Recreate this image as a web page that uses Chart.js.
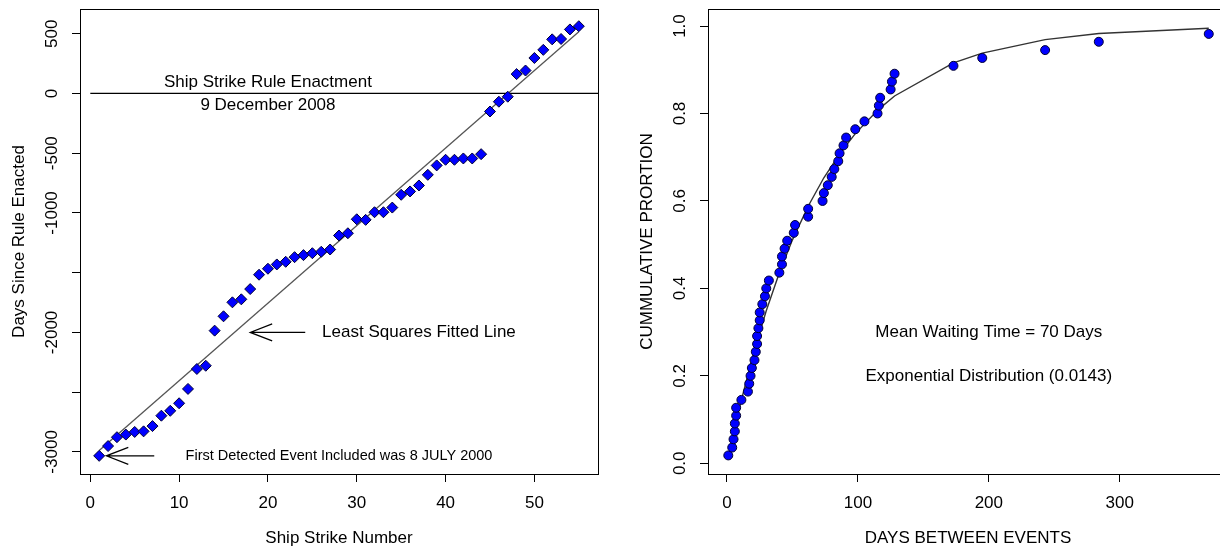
<!DOCTYPE html>
<html>
<head>
<meta charset="utf-8">
<script src="https://cdn.jsdelivr.net/npm/chart.js@4/dist/chart.umd.min.js"></script>
<style>
  html, body { margin: 0; padding: 0; background: #fff; overflow: hidden; }
  #wrap { position: relative; width: 1220px; height: 551px; overflow: hidden; }
  canvas { position: absolute; top: 0; }
</style>
</head>
<body>
<div id="wrap">
  <canvas id="left" width="620" height="551" style="left:0"></canvas>
  <canvas id="right" width="620" height="551" style="left:620px"></canvas>
</div>
<script>
// left panel: days since the rule, by strike number
const strikeNumber = [1, 2, 3, 4, 5, 6, 7, 8, 9, 10, 11, 12, 13, 14, 15, 16, 17, 18, 19, 20,
  21, 22, 23, 24, 25, 26, 27, 28, 29, 30, 31, 32, 33, 34, 35, 36, 37, 38, 39, 40,
  41, 42, 43, 44, 45, 46, 47, 48, 49, 50, 51, 52, 53, 54, 55];
const daysSinceRule = [-3033, -2951, -2877, -2855, -2833, -2828, -2784, -2697, -2656, -2593,
  -2473, -2306, -2279, -1985, -1865, -1748, -1723, -1637, -1517, -1467,
  -1431, -1409, -1370, -1353, -1337, -1325, -1306, -1189, -1170, -1053,
  -1058, -994, -994, -955, -848, -820, -770, -681, -602, -555,
  -555, -544, -544, -508, -151, -69, -27, 162, 192, 297,
  365, 453, 456, 536, 563];
const fitLineX = [1, 55];
const fitLineY = [-2988, 516];
const ruleLineX = [0, 57.16];
const ruleLineY = [0, 0];
const leftXTicks = [0, 10, 20, 30, 40, 50];
const leftYTicks = [500, 0, -500, -1000, -1500, -2000, -2500, -3000];
const leftYLabels = [500, 0, -500, -1000, -2000, -3000];

// right panel: cumulative proportion of waiting times
const waitDays = [1, 4, 5, 6, 6, 7, 7, 11, 16, 17, 18, 19, 21, 22, 23, 23, 24, 25, 25, 27,
  29, 30, 32, 40, 42, 42, 44, 46, 51, 52, 62, 62, 73, 74, 77, 80, 82, 85, 86, 89,
  91, 98, 105, 115, 116, 117, 125, 126, 128, 173, 195, 243, 284, 368];
const cumProportion = [0.018, 0.036, 0.055, 0.073, 0.091, 0.109, 0.127, 0.145, 0.164, 0.182,
  0.200, 0.218, 0.236, 0.255, 0.273, 0.291, 0.309, 0.327, 0.345, 0.364,
  0.382, 0.400, 0.418, 0.436, 0.455, 0.473, 0.491, 0.509, 0.527, 0.545,
  0.564, 0.582, 0.600, 0.618, 0.636, 0.655, 0.673, 0.691, 0.709, 0.727,
  0.745, 0.764, 0.782, 0.800, 0.818, 0.836, 0.855, 0.873, 0.891, 0.909,
  0.927, 0.945, 0.964, 0.982];
const expDays = [1, 5, 10, 20, 30, 40, 50, 62, 74, 86, 98, 116, 128, 173, 195, 243, 284, 368];
const expProp = [0.014, 0.069, 0.133, 0.249, 0.349, 0.436, 0.511, 0.588, 0.653, 0.707,
  0.754, 0.810, 0.840, 0.916, 0.938, 0.969, 0.983, 0.995];
const rightXTicks = [0, 100, 200, 300];
const rightYTicks = [0, 0.2, 0.4, 0.6, 0.8, 1.0];

const FONT = '17px "Liberation Sans", Arial, sans-serif';
const SMALL = '14.5px "Liberation Sans", Arial, sans-serif';
const toXY = (xs, ys) => xs.map((x, i) => ({ x, y: ys[i] }));

// R-like box, rotated y labels, axis titles, text and arrows
const rStyle = {
  id: 'rStyle',
  afterDraw(chart, args, o) {
    const { ctx, chartArea: a } = chart;
    const x = chart.scales.x, y = chart.scales.y;
    ctx.save();
    ctx.strokeStyle = '#000';
    ctx.lineWidth = 1;
    ctx.strokeRect(Math.round(a.left) + 0.5, Math.round(a.top) + 0.5,
      Math.round(a.right - a.left), Math.round(a.bottom - a.top));

    ctx.fillStyle = '#000';
    ctx.font = FONT;
    ctx.textAlign = 'center';
    ctx.textBaseline = 'middle';
    o.yLabels.forEach((v, i) => {
      ctx.save();
      ctx.translate(a.left - 28, y.getPixelForValue(v));
      ctx.rotate(-Math.PI / 2);
      ctx.fillText(o.yText[i], 0, 0);
      ctx.restore();
    });
    ctx.save();
    ctx.translate(a.left - 61, (a.top + a.bottom) / 2);
    ctx.rotate(-Math.PI / 2);
    ctx.fillText(o.yTitle, 0, 0);
    ctx.restore();
    ctx.fillText(o.xTitle, (a.left + a.right) / 2, 538);

    o.notes.forEach(n => {
      ctx.font = n.small ? SMALL : FONT;
      ctx.fillText(n.text, x.getPixelForValue(n.x), y.getPixelForValue(n.y) + (n.dy || 0));
    });

    ctx.lineWidth = 1.2;
    o.arrows.forEach(r => {
      const x0 = x.getPixelForValue(r.x0), x1 = x.getPixelForValue(r.x1);
      const yy = y.getPixelForValue(r.y);
      ctx.beginPath();
      ctx.moveTo(x0, yy); ctx.lineTo(x1, yy);
      ctx.moveTo(x1 + 22, yy - 8.5); ctx.lineTo(x1, yy); ctx.lineTo(x1 + 22, yy + 8.5);
      ctx.stroke();
    });
    ctx.restore();
  }
};

function axis(min, max, ticks, fit, showLabels) {
  return {
    type: 'linear', min, max,
    afterBuildTicks: s => { s.ticks = ticks.map(v => ({ value: v })); },
    afterFit: fit,
    border: { display: false },
    grid: { display: true, drawOnChartArea: false, drawTicks: true, tickLength: 8, color: '#000', tickColor: '#000' },
    ticks: { display: showLabels, color: '#000', font: { family: '"Liberation Sans", Arial, sans-serif', size: 17 }, padding: 11, maxRotation: 0 }
  };
}

new Chart(document.getElementById('left'), {
  type: 'scatter',
  data: {
    datasets: [
      { data: toXY(strikeNumber, daysSinceRule), pointStyle: 'rectRot', pointRadius: 5.5,
        backgroundColor: '#0000ff', borderColor: '#000033', borderWidth: 1 },
      { data: toXY(fitLineX, fitLineY), showLine: true, pointRadius: 0, borderColor: '#555', borderWidth: 1.3 },
      { data: toXY(ruleLineX, ruleLineY), showLine: true, pointRadius: 0, borderColor: '#000', borderWidth: 1.2 }
    ]
  },
  options: {
    responsive: false, animation: false, devicePixelRatio: 1,
    layout: { padding: { left: 0, right: 22, top: 9, bottom: 0 } },
    scales: {
      x: axis(-1.16, 57.16, leftXTicks, s => { s.height = 77; }, true),
      y: axis(-3185, 707, leftYTicks, s => { s.width = 80; }, false)
    },
    plugins: {
      legend: { display: false }, tooltip: { enabled: false },
      rStyle: {
        yLabels: leftYLabels, yText: leftYLabels.map(String),
        yTitle: 'Days Since Rule Enacted', xTitle: 'Ship Strike Number',
        notes: [
          { text: 'Ship Strike Rule Enactment', x: 20, y: 0, dy: -11 },
          { text: '9 December 2008', x: 20, y: 0, dy: 12 },
          { text: 'Least Squares Fitted Line', x: 37, y: -2000 },
          { text: 'First Detected Event Included was 8 JULY 2000', x: 28, y: -3033, small: true }
        ],
        arrows: [
          { x0: 24.2, x1: 18, y: -2000 },
          { x0: 7.2, x1: 1.8, y: -3033 }
        ]
      }
    }
  },
  plugins: [rStyle]
});

new Chart(document.getElementById('right'), {
  type: 'scatter',
  data: {
    datasets: [
      { data: toXY(waitDays, cumProportion), pointStyle: 'circle', pointRadius: 4.5,
        backgroundColor: '#0000ff', borderColor: '#000033', borderWidth: 1 },
      { data: toXY(expDays, expProp), showLine: true, pointRadius: 0, borderColor: '#333', borderWidth: 1.4 }
    ]
  },
  options: {
    responsive: false, animation: false, devicePixelRatio: 1,
    layout: { padding: { left: 0, right: 12, top: 9, bottom: 0 } },
    scales: {
      x: axis(-14.5, 382.7, rightXTicks, s => { s.height = 77; }, true),
      y: axis(-0.0245, 1.039, rightYTicks, s => { s.width = 88; }, false)
    },
    plugins: {
      legend: { display: false }, tooltip: { enabled: false },
      rStyle: {
        yLabels: rightYTicks, yText: rightYTicks.map(v => v.toFixed(1)),
        yTitle: 'CUMMULATIVE PRORTION', xTitle: 'DAYS BETWEEN EVENTS',
        notes: [
          { text: 'Mean Waiting Time = 70 Days', x: 200, y: 0.3 },
          { text: 'Exponential Distribution (0.0143)', x: 200, y: 0.2 }
        ],
        arrows: []
      }
    }
  },
  plugins: [rStyle]
});
</script>
</body>
</html>
